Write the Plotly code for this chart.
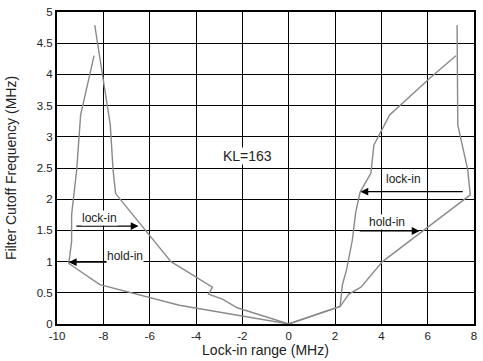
import plotly.graph_objects as go

# Left side curves (Lock-in range MHz, Filter cutoff MHz)
left_hold_x = [-8.40, -8.98, -9.15, -9.30, -9.37, -9.37, -9.49, -8.15, -4.72, 0.0]
left_hold_y = [4.30, 3.35, 2.47, 2.00, 1.75, 1.32, 0.97, 0.63, 0.30, 0.0]

left_lock_x = [-8.37, -8.04, -7.70, -7.58, -7.47, -5.08, -3.29, -3.46, -2.86, -2.22, 0.0]
left_lock_y = [4.79, 4.00, 3.19, 2.47, 2.09, 1.00, 0.59, 0.48, 0.40, 0.26, 0.0]

# Right side curves
right_hold_x = [7.27, 7.30, 7.73, 7.84, 4.05, 3.12, 2.60, 2.22, 0.0]
right_hold_y = [4.79, 3.19, 2.47, 2.07, 1.00, 0.59, 0.48, 0.28, 0.0]

right_lock_x = [7.22, 6.15, 4.36, 3.68, 3.55, 3.08, 2.89, 2.75, 2.50, 2.32, 2.22, 0.0]
right_lock_y = [4.30, 3.96, 3.35, 2.87, 2.42, 2.11, 1.78, 1.35, 0.87, 0.63, 0.28, 0.0]

x_ticks = [-10, -8, -6, -4, -2, 0, 2, 4, 6, 8]
x_tick_text = ["-10", "-8", "-6", "-4", "-2", "0", "2", "4", "6", "8"]
y_ticks = [0, 0.5, 1, 1.5, 2, 2.5, 3, 3.5, 4, 4.5, 5]
y_tick_text = ["0", "0.5", "1", "1.5", "2", "2.5", "3", "3.5", "4", "4.5", "5"]

FONT = "Liberation Sans, Arial, sans-serif"
LINE = dict(color="#8a8a8a", width=1.4)

fig = go.Figure()
for xs, ys in [(left_hold_x, left_hold_y), (left_lock_x, left_lock_y),
               (right_hold_x, right_hold_y), (right_lock_x, right_lock_y)]:
    fig.add_trace(go.Scatter(x=xs, y=ys, mode="lines", line=LINE,
                             showlegend=False, hoverinfo="skip"))

# Arrows: (tail_x, tail_y, head_x, head_y)
arrows = [(-9.23, 1.57, -6.48, 1.57),
          (-7.5, 0.99, -9.49, 0.99),
          (7.58, 2.12, 3.10, 2.12),
          (3.0, 1.49, 5.65, 1.49)]
for tx, ty, hx, hy in arrows:
    fig.add_annotation(x=hx, y=hy, ax=tx, ay=ty, xref="x", yref="y",
                       axref="x", ayref="y", text="", showarrow=True,
                       arrowhead=2, arrowsize=1.3, arrowwidth=1.2,
                       arrowcolor="black")

labels = [(-8.18, 1.70, "lock-in", 12), (-7.08, 1.09, "hold-in", 12),
          (4.97, 2.32, "lock-in", 12), (4.23, 1.64, "hold-in", 12),
          (-1.77, 2.69, "KL=163", 14)]
for lx, ly, t, fs in labels:
    fig.add_annotation(x=lx, y=ly, text=t, showarrow=False,
                       font=dict(family=FONT, size=fs, color="#222"),
                       bgcolor="white", borderpad=0)

fig.update_layout(
    width=483, height=361,
    margin=dict(l=57, r=6, t=12, b=37),
    paper_bgcolor="white", plot_bgcolor="white",
    font=dict(family=FONT, size=11.5, color="#222"),
)
fig.update_xaxes(range=[-10, 8], tickvals=x_ticks, ticktext=x_tick_text, ticks="",
                 showgrid=True, gridcolor="black", gridwidth=1.2,
                 showline=True, linecolor="black", linewidth=2, mirror=True,
                 zeroline=False,
                 title=dict(text="Lock-in range (MHz)", font=dict(size=14), standoff=2))
fig.update_yaxes(range=[0, 5], tickvals=y_ticks, ticktext=y_tick_text, ticks="",
                 showgrid=True, gridcolor="black", gridwidth=1.2,
                 showline=True, linecolor="black", linewidth=2, mirror=True,
                 zeroline=False,
                 title=dict(text="Filter Cutoff Frequency (MHz)", font=dict(size=14), standoff=17))

fig.write_html("out.html", config={"displayModeBar": False},
               post_script="document.body.style.margin='0';")
